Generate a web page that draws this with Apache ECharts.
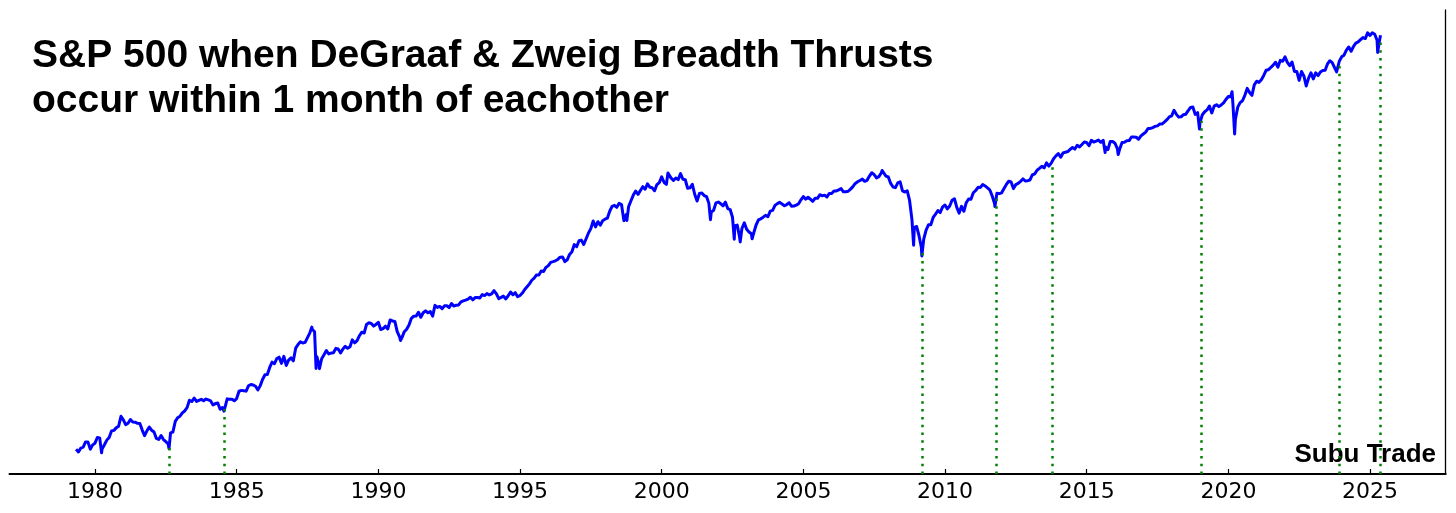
<!DOCTYPE html>
<html><head><meta charset="utf-8">
<script src="https://cdn.jsdelivr.net/npm/echarts@6/dist/echarts.min.js"></script>
<style>html,body{margin:0;padding:0;background:#fff}#c{width:1456px;height:513px}</style>
</head><body><div id="c"></div>
<script>
// S&P 500 month-end closes, starting April 1979
const monthlyClose = [
  101.76, 99.08, 102.91, 103.81, 109.32, 109.32, 101.82, 106.16, 107.94,                 // 1979 Apr-Dec
  114.16, 113.66, 102.09, 106.29, 111.24, 114.24, 121.67, 122.38, 125.46, 127.47, 140.52, 135.76, // 1980
  129.55, 131.27, 136.00, 132.81, 132.59, 131.21, 130.92, 122.79, 116.18, 121.89, 126.35, 122.55, // 1981
  120.40, 113.11, 111.96, 116.44, 111.88, 109.61, 107.09, 119.51, 120.42, 133.71, 138.54, 140.64, // 1982
  145.30, 148.06, 152.96, 164.42, 162.39, 168.11, 162.56, 164.40, 166.07, 163.55, 166.40, 164.93, // 1983
  163.41, 157.06, 159.18, 160.05, 150.55, 153.18, 150.66, 166.68, 166.10, 166.09, 163.58, 167.24, // 1984
  179.63, 181.18, 180.66, 179.83, 189.55, 191.85, 190.92, 188.63, 182.08, 189.82, 202.17, 211.28, // 1985
  211.78, 226.92, 238.90, 235.52, 247.35, 250.84, 236.12, 252.93, 231.32, 243.98, 249.22, 242.17, // 1986
  274.08, 284.20, 291.70, 288.36, 290.10, 304.00, 318.66, 329.80, 321.83, 251.79, 230.30, 247.08, // 1987
  257.07, 267.82, 258.89, 261.33, 262.16, 273.50, 272.02, 261.52, 271.91, 278.97, 273.70, 277.72, // 1988
  297.47, 288.86, 294.87, 309.64, 320.52, 317.98, 346.08, 351.45, 349.15, 340.36, 345.99, 353.40, // 1989
  329.08, 331.89, 339.94, 330.80, 361.23, 358.02, 356.15, 322.56, 306.05, 304.00, 322.22, 330.22, // 1990
  343.93, 367.07, 375.22, 375.35, 389.83, 371.16, 387.81, 395.43, 387.86, 392.45, 375.22, 417.09, // 1991
  408.79, 412.70, 403.69, 414.95, 415.35, 408.14, 424.21, 414.03, 417.80, 418.68, 431.35, 435.71, // 1992
  438.78, 443.38, 451.67, 440.19, 450.19, 450.53, 448.13, 463.56, 458.93, 467.83, 461.79, 466.45, // 1993
  481.61, 467.14, 445.77, 450.91, 456.50, 444.27, 458.26, 475.49, 462.69, 472.35, 453.69, 459.27, // 1994
  470.42, 487.39, 500.71, 514.71, 533.40, 544.75, 562.06, 561.88, 584.41, 581.50, 605.37, 615.93, // 1995
  636.02, 640.43, 645.50, 654.17, 669.12, 670.63, 639.95, 651.99, 687.31, 705.27, 757.02, 740.74, // 1996
  786.16, 790.82, 757.12, 801.34, 848.28, 885.14, 954.29, 899.47, 947.28, 914.62, 955.40, 970.43, // 1997
  980.28, 1049.34, 1101.75, 1111.75, 1090.82, 1133.84, 1120.67, 957.28, 1017.01, 1098.67, 1163.63, 1229.23, // 1998
  1279.64, 1238.33, 1286.37, 1335.18, 1301.84, 1372.71, 1328.72, 1320.41, 1282.71, 1362.93, 1388.91, 1469.25, // 1999
  1394.46, 1366.42, 1498.58, 1452.43, 1420.60, 1454.60, 1430.83, 1517.68, 1436.51, 1429.40, 1314.95, 1320.28, // 2000
  1366.01, 1239.94, 1160.33, 1249.46, 1255.82, 1224.38, 1211.23, 1133.58, 1040.94, 1059.78, 1139.45, 1148.08, // 2001
  1130.20, 1106.73, 1147.39, 1076.92, 1067.14, 989.82, 911.62, 916.07, 815.28, 885.76, 936.31, 879.82, // 2002
  855.70, 841.15, 848.18, 916.92, 963.59, 974.50, 990.31, 1008.01, 995.97, 1050.71, 1058.20, 1111.92, // 2003
  1131.13, 1144.94, 1126.21, 1107.30, 1120.68, 1140.84, 1101.72, 1104.24, 1114.58, 1130.20, 1173.82, 1211.92, // 2004
  1181.27, 1203.60, 1180.59, 1156.85, 1191.50, 1191.33, 1234.18, 1220.33, 1228.81, 1207.01, 1249.48, 1248.29, // 2005
  1280.08, 1280.66, 1294.87, 1310.61, 1270.09, 1270.20, 1276.66, 1303.82, 1335.85, 1377.94, 1400.63, 1418.30, // 2006
  1438.24, 1406.82, 1420.86, 1482.37, 1530.62, 1503.35, 1455.27, 1473.99, 1526.75, 1549.38, 1481.14, 1468.36, // 2007
  1378.55, 1330.63, 1322.70, 1385.59, 1400.38, 1280.00, 1267.38, 1282.83, 1166.36, 968.75, 896.24, 903.25, // 2008
  825.88, 735.09, 797.87, 872.81, 919.14, 919.32, 987.48, 1020.62, 1057.08, 1036.19, 1095.63, 1115.10, // 2009
  1073.87, 1104.49, 1169.43, 1186.69, 1089.41, 1030.71, 1101.60, 1049.33, 1141.20, 1183.26, 1180.55, 1257.64, // 2010
  1286.12, 1327.22, 1325.83, 1363.61, 1345.20, 1320.64, 1292.28, 1218.89, 1131.42, 1253.30, 1246.96, 1257.60, // 2011
  1312.41, 1365.68, 1408.47, 1397.91, 1310.33, 1362.16, 1379.32, 1406.58, 1440.67, 1412.16, 1416.18, 1426.19, // 2012
  1498.11, 1514.68, 1569.19, 1597.57, 1630.74, 1606.28, 1685.73, 1632.97, 1681.55, 1756.54, 1805.81, 1848.36, // 2013
  1782.59, 1859.45, 1872.34, 1883.95, 1923.57, 1960.23, 1930.67, 2003.37, 1972.29, 2018.05, 2067.56, 2058.90, // 2014
  1994.99, 2104.50, 2067.89, 2085.51, 2107.39, 2063.11, 2103.84, 1972.18, 1920.03, 2079.36, 2080.41, 2043.94, // 2015
  1940.24, 1932.23, 2059.74, 2065.30, 2096.95, 2098.86, 2173.60, 2170.95, 2168.27, 2126.15, 2198.81, 2238.83, // 2016
  2278.87, 2363.64, 2362.72, 2384.20, 2411.80, 2423.41, 2470.30, 2471.65, 2519.36, 2575.26, 2647.58, 2673.61, // 2017
  2823.81, 2713.83, 2640.87, 2648.05, 2705.27, 2718.37, 2816.29, 2901.52, 2913.98, 2711.74, 2760.17, 2506.85, // 2018
  2704.10, 2784.49, 2834.40, 2945.83, 2752.06, 2941.76, 2980.38, 2926.46, 2976.74, 3037.56, 3140.98, 3230.78, // 2019
  3225.52, 2954.22, 2584.59, 2912.43, 3044.31, 3100.29, 3271.12, 3500.31, 3363.00, 3269.96, 3621.63, 3756.07, // 2020
  3714.24, 3811.15, 3972.89, 4181.17, 4204.11, 4297.50, 4395.26, 4522.68, 4307.54, 4605.38, 4567.00, 4766.18, // 2021
  4515.55, 4373.94, 4530.41, 4131.93, 4132.15, 3785.38, 4130.29, 3955.00, 3585.62, 3871.98, 4080.11, 3839.50, // 2022
  4076.60, 3970.15, 4109.31, 4169.48, 4179.83, 4450.38, 4588.96, 4507.66, 4288.05, 4193.80, 4567.80, 4769.83, // 2023
  4845.65, 5096.27, 5254.35, 5035.69, 5277.51, 5460.48, 5522.30, 5648.40, 5762.48, 5705.45, 6032.38, 5881.63, // 2024
  6040.53, 5954.50, 5611.85, 5569.06                                                      // 2025 Jan-Apr
];
// Intra-month swing highs / lows (decimal year, index level)
const swingDates  = [1980.23, 1982.61, 1984.55, 1987.65, 1987.80, 1987.92, 1990.78, 1998.77, 2000.22, 2001.72, 2002.56, 2002.77, 2003.19, 2007.78, 2008.89, 2009.18, 2010.51, 2011.76, 2015.65, 2016.11, 2018.98, 2020.13, 2020.22, 2022.78, 2023.82, 2025.13, 2025.27, 2025.37];
const swingValues = [98.2, 102.4, 147.8, 336.8, 224.8, 223.9, 295.5, 959.4, 1527.5, 965.8, 797.7, 776.8, 800.7, 1565.2, 752.4, 676.5, 1022.6, 1099.2, 1867.6, 1829.1, 2351.1, 3386.2, 2237.4, 3577.0, 4117.4, 6144.2, 4982.8, 5890.0];
// Breadth thrust signals (decimal year) and index level at the signal
const thrustDates  = [1982.62, 1984.56, 2009.20, 2011.80, 2013.79, 2019.04, 2023.90, 2025.36];
const thrustLevels = [106, 152, 720, 1200, 1700, 2550, 4400, 5600];
const tickYears = [1980, 1985, 1990, 1995, 2000, 2005, 2010, 2015, 2020, 2025];
const titleText = 'S&P 500 when DeGraaf & Zweig Breadth Thrusts\noccur within 1 month of eachother';
const sourceText = 'Subu Trade';

const X_MIN = 1976.98, X_MAX = 2027.67, Y_MIN = 79.8, Y_MAX = 7550;

const points = [];
monthlyClose.forEach((v, k) => {
  const mi = 3 + k;
  const yr = 1979 + Math.floor(mi / 12);
  const m = mi % 12;
  points.push([yr + (m + 0.97) / 12, v]);
});
swingDates.forEach((d, i) => points.push([d, swingValues[i]]));
points.sort((a, b) => a[0] - b[0]);

const thrustLines = thrustDates.map((d, i) => [
  { coord: [d, Y_MIN] },
  { coord: [d, thrustLevels[i]] }
]);

const chart = echarts.init(document.getElementById('c'), null, { renderer: 'canvas' });
chart.setOption({
  animation: false,
  backgroundColor: '#ffffff',
  grid: { left: 9.5, right: 10.3, top: 10, bottom: 39, containLabel: false },
  title: {
    text: titleText,
    left: 27, top: 29,
    textStyle: { fontFamily: 'Liberation Sans', fontWeight: 'bold', fontSize: 39, lineHeight: 45, color: '#000' }
  },
  graphic: [{
    type: 'text', right: 20, top: 442,
    style: { text: sourceText, font: 'bold 26px "Liberation Sans"', fill: '#000' }
  }],
  xAxis: {
    type: 'value', min: X_MIN, max: X_MAX,
    axisLine: { show: true, lineStyle: { color: '#000', width: 2 } },
    axisTick: { show: true, inside: true, length: 5, lineStyle: { color: '#000', width: 1.2 }, customValues: tickYears },
    axisLabel: { show: true, customValues: tickYears, margin: 7, color: '#000', fontFamily: 'DejaVu Sans', fontSize: 22, formatter: v => String(Math.round(v)) },
    splitLine: { show: false }
  },
  yAxis: {
    type: 'log', logBase: 10, min: Y_MIN, max: Y_MAX, position: 'right',
    axisLine: { show: true, lineStyle: { color: '#000', width: 1.3 } },
    axisTick: { show: false }, axisLabel: { show: false }, splitLine: { show: false }
  },
  series: [{
    type: 'line', data: points, showSymbol: false, symbol: 'none',
    lineStyle: { color: '#0000ff', width: 3, join: 'round' },
    z: 2,
    markLine: {
      silent: true, symbol: ['none', 'none'], label: { show: false },
      lineStyle: { color: '#008000', width: 2.5, type: [2.5, 5.3], cap: 'butt' },
      emphasis: { disabled: true },
      data: thrustLines
    }
  }]
});
</script></body></html>
